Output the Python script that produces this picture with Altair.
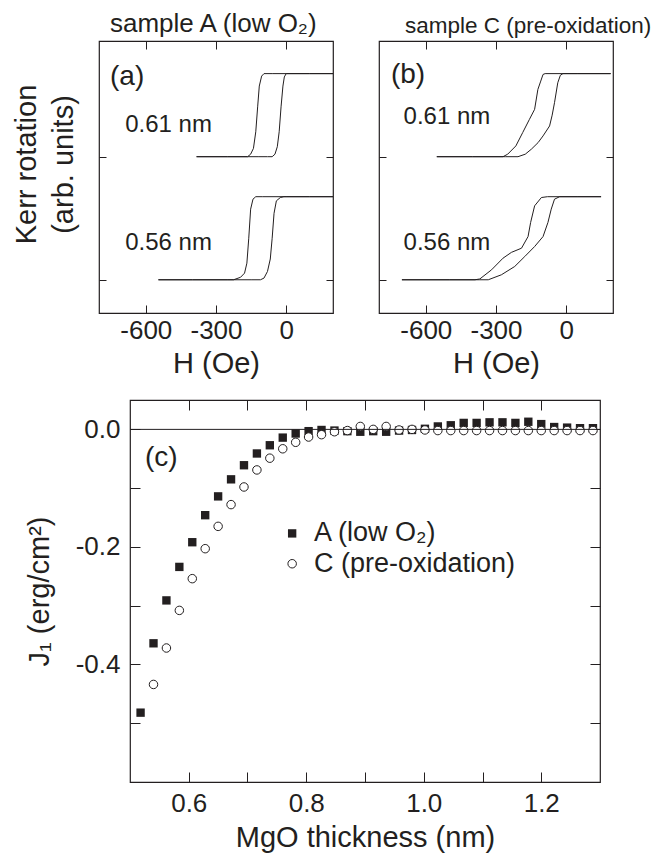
import altair as alt
import pandas as pd

FONT = "Liberation Sans"
INK = "#231f20"

# ---------------- data ----------------
# Kerr loops: applied field H (Oe) and Kerr signal normalised 0 (low state) .. 1 (high state)
# panel (a) sample A (low O2)
a61_H = [-383, -250, -165, -120, -80, -60, -48, -38, -30, -22, -14, -8, 0, 100, 200,
         100, 0, -60, -95, -105, -115, -122, -130, -140, -152, -165, -250, -383]
a61_M = [0, 0, 0, 0, 0, 0, 0.03, 0.12, 0.3, 0.6, 0.85, 0.96, 1, 1, 1,
         1, 1, 1, 1, 0.97, 0.85, 0.6, 0.3, 0.1, 0.03, 0, 0, 0]
a56_H = [-546, -400, -250, -150, -110, -95, -80, -68, -60, -52, -42, -25, -10, 100, 200,
         100, 0, -100, -130, -142, -152, -160, -168, -178, -195, -225, -400, -546]
a56_M = [0, 0, 0, 0, 0, 0.02, 0.1, 0.25, 0.5, 0.8, 0.95, 0.99, 1, 1, 1,
         1, 1, 1, 1, 0.97, 0.85, 0.5, 0.2, 0.08, 0.03, 0, 0, 0]
# panel (b) sample C (pre-oxidation)
b61_H = [-553, -400, -260, -206, -175, -149, -120, -99, -71, -60, -50, -36, -25, -14, 50, 190,
         50, -90, -99, -110, -121, -135, -157, -186, -215, -250, -270, -400, -553]
b61_M = [0, 0, 0, 0, 0.03, 0.09, 0.17, 0.25, 0.37, 0.5, 0.65, 0.89, 0.98, 1, 1, 1,
         1, 1, 0.99, 0.9, 0.81, 0.57, 0.45, 0.29, 0.13, 0.03, 0, 0, 0]
b56_H = [-702, -500, -370, -333, -277, -220, -177, -135, -99, -78, -64, -50, -28, 50, 149,
         50, -80, -106, -135, -152, -163, -191, -234, -270, -319, -369, -390, -500, -702]
b56_M = [0, 0, 0, 0, 0.06, 0.16, 0.28, 0.4, 0.52, 0.69, 0.85, 0.97, 1, 1, 1,
         1, 1, 0.99, 0.89, 0.69, 0.52, 0.38, 0.33, 0.26, 0.12, 0.01, 0, 0, 0]
loop_names = ["0.61 nm", "0.56 nm"]

# panel (c): interlayer coupling J1 vs MgO thickness
thickness = [0.518, 0.540, 0.562, 0.584, 0.606, 0.628, 0.650, 0.672, 0.694, 0.716,
             0.738, 0.760, 0.782, 0.804, 0.826, 0.848, 0.870, 0.892, 0.914, 0.936,
             0.958, 0.980, 1.002, 1.024, 1.046, 1.068, 1.090, 1.112, 1.134, 1.156,
             1.178, 1.200, 1.222, 1.244, 1.266, 1.288]
J1_A = [-0.482, -0.364, -0.291, -0.234, -0.192, -0.146, -0.114, -0.085, -0.061, -0.041,
        -0.027, -0.014, -0.007, -0.003, -0.001, -0.002, -0.003, -0.004, -0.003, -0.004,
        -0.002, -0.001, 0.001, 0.005, 0.007, 0.011, 0.011, 0.012, 0.012, 0.011,
        0.013, 0.009, 0.004, 0.003, 0.002, 0.002]
J1_C = [None, -0.434, -0.372, -0.308, -0.254, -0.203, -0.165, -0.128, -0.098, -0.069,
        -0.049, -0.033, -0.022, -0.013, -0.009, -0.004, -0.002, 0.005, 0.000, 0.005,
        -0.001, 0.000, -0.001, -0.002, -0.002, -0.002, -0.002, -0.002, -0.002, -0.002,
        -0.002, -0.002, -0.002, -0.002, -0.002, -0.002]
series_names = ["A (low O\u2082)", "C (pre-oxidation)"]

# ---------------- layout constants ----------------
KERR_H = 0.675          # loop height in units of the baseline spacing
LBL, TTL = 26, 29

H_scale = alt.Scale(domain=[-800, 200], nice=False, zero=False)
K_scale = alt.Scale(domain=[-0.27, 1.94], nice=False, zero=False)
H_label = "datum.value < 0 ? '-' + format(-datum.value, 'd') : format(datum.value, 'd')"


def kerr_panel(loops, title, title_size, title_dx, tag, with_ytitle):
    frames = []
    for k, (name, H, M) in enumerate(loops):
        off = 1 if k == 0 else 0
        frames.append(pd.DataFrame({"H": H, "K": [off + KERR_H * m for m in M],
                                    "i": list(range(len(H))), "loop": name}))
    df = pd.concat(frames, ignore_index=True)
    if with_ytitle:
        yaxis = alt.Axis(orient="left", values=[0, 1], offset=-7, tickSize=7, domain=False,
                         grid=False, labels=False, title=["Kerr rotation", "(arb. units)"],
                         titleLineHeight=37, titlePadding=20, titleY=123)
    else:
        yaxis = alt.Axis(orient="left", values=[0, 1], offset=-7, tickSize=7, domain=False,
                         grid=False, labels=False, title=None)
    lines = alt.Chart(df).mark_line(color=INK, strokeWidth=1, clip=True).encode(
        x=alt.X("H:Q", scale=H_scale,
                axis=alt.Axis(orient="bottom", values=[-600, -300, 0], offset=-8, tickSize=8,
                              domain=False, grid=False, labelExpr=H_label, labelPadding=4.5,
                              title="H (Oe)", titlePadding=5.5)),
        y=alt.Y("K:Q", scale=K_scale, axis=yaxis),
        detail="loop:N", order="i:Q")
    ann = pd.DataFrame({"H": tag[0], "K": tag[1], "t": tag[2], "fs": tag[3]})
    text = alt.Chart(ann).mark_text(align="left", baseline="middle", font=FONT, color=INK).encode(
        x=alt.X("H:Q", scale=H_scale,
                axis=alt.Axis(orient="top", values=[-600, -300, 0], offset=-8, tickSize=8,
                              domain=False, grid=False, labels=False, title=None)),
        y=alt.Y("K:Q", scale=K_scale,
                axis=alt.Axis(orient="right", values=[0, 1], offset=-7, tickSize=7,
                              domain=False, grid=False, labels=False, title=None)),
        text="t:N", size=alt.Size("fs:Q", scale=None, legend=None))
    return alt.layer(lines, text).resolve_axis(x="independent", y="independent").properties(
        width=234, height=272,
        title=alt.TitleParams(title, anchor="start", frame="group", dx=title_dx,
                              fontSize=title_size, font=FONT, color=INK, fontWeight="normal",
                              offset=3.5))


panel_a = kerr_panel([(loop_names[0], a61_H, a61_M), (loop_names[1], a56_H, a56_M)],
                     "sample A (low O\u2082)", 26, 11,
                     ([-753, -688, -688], [1.65, 1.26, 0.30], ["(a)", loop_names[0], loop_names[1]], [28, 24, 24]),
                     True)
panel_b = kerr_panel([(loop_names[0], b61_H, b61_M), (loop_names[1], b56_H, b56_M)],
                     "sample C (pre-oxidation)", 22.5, 26,
                     ([-749, -695, -695], [1.66, 1.32, 0.30], ["(b)", loop_names[0], loop_names[1]], [28, 24, 24]),
                     False)

# ---------------- panel (c) ----------------
T_scale = alt.Scale(domain=[0.5, 1.3], nice=False, zero=False)
J_scale = alt.Scale(domain=[-0.6, 0.05], nice=False, zero=False)
t_ticks = [0.6, 0.7, 0.8, 0.9, 1.0, 1.1, 1.2]
j_ticks = [0.0, -0.1, -0.2, -0.3, -0.4, -0.5]
t_label = "round(datum.value * 10) % 2 == 0 ? format(datum.value, '.1f') : ''"
j_label = ("round(datum.value * 10) % 2 == 0 ? (datum.value < -0.001 ? '-' + format(-datum.value, '.1f') : '0.0') : ''")

dfA = pd.DataFrame({"t": thickness, "J": J1_A})
dfC = pd.DataFrame({"t": thickness, "J": J1_C}).dropna()

squares = alt.Chart(dfA).mark_point(shape="square", filled=True, color=INK, size=70, opacity=1).encode(
    x=alt.X("t:Q", scale=T_scale,
            axis=alt.Axis(orient="bottom", values=t_ticks, offset=-10, tickSize=10, domain=False,
                          grid=False, labelExpr=t_label, labelPadding=8,
                          title="MgO thickness (nm)", titlePadding=7)),
    y=alt.Y("J:Q", scale=J_scale,
            axis=alt.Axis(orient="left", values=j_ticks, offset=-10, tickSize=10, domain=False,
                          grid=False, labels=False, title=None)))
circles = alt.Chart(dfC).mark_point(shape="circle", filled=True, fill="white", stroke=INK,
                                    strokeWidth=1, size=72, opacity=1).encode(
    x=alt.X("t:Q", scale=T_scale,
            axis=alt.Axis(orient="top", values=t_ticks, offset=-10, tickSize=10, domain=False,
                          grid=False, labels=False, title=None)),
    y=alt.Y("J:Q", scale=J_scale,
            axis=alt.Axis(orient="right", values=j_ticks, offset=-10, tickSize=10, domain=False,
                          grid=False, labels=False, title=None)))
zero = alt.Chart(pd.DataFrame({"J": [0.0]})).mark_rule(color=INK, strokeWidth=1).encode(
    y=alt.Y("J:Q", scale=J_scale, axis=None))

leg = pd.DataFrame({"t": [0.776, 0.776], "J": [-0.177, -0.2286], "lab": series_names,
                    "tl": [0.813, 0.813]})
leg_sq = alt.Chart(leg.iloc[[0]]).mark_point(shape="square", filled=True, color=INK, size=70, opacity=1).encode(
    x=alt.X("t:Q", scale=T_scale, axis=None), y=alt.Y("J:Q", scale=J_scale, axis=None))
leg_ci = alt.Chart(leg.iloc[[1]]).mark_point(shape="circle", filled=True, fill="white", stroke=INK,
                                             strokeWidth=1, size=72, opacity=1).encode(
    x=alt.X("t:Q", scale=T_scale, axis=None), y=alt.Y("J:Q", scale=J_scale, axis=None))
leg_tx = alt.Chart(leg).mark_text(align="left", baseline="middle", font=FONT, fontSize=27, color=INK).encode(
    x=alt.X("tl:Q", scale=T_scale, axis=None), y=alt.Y("J:Q", scale=J_scale, axis=None), text="lab:N")
tag_c = alt.Chart(pd.DataFrame({"t": [0.5256], "J": [-0.0485], "s": ["(c)"]})).mark_text(
    align="left", baseline="middle", font=FONT, fontSize=28, color=INK).encode(
    x=alt.X("t:Q", scale=T_scale, axis=None), y=alt.Y("J:Q", scale=J_scale, axis=None), text="s:N")

panel_c = alt.layer(squares, circles, zero, leg_sq, leg_ci, leg_tx, tag_c).resolve_axis(
    x="independent", y="independent").properties(width=470, height=382)

# labelled J1 axis of panel (c), carried by a narrow frameless view to its left
c_yaxis = alt.Chart(dfA).mark_point(opacity=0).encode(
    y=alt.Y("J:Q", scale=J_scale,
            axis=alt.Axis(orient="left", values=j_ticks, offset=-21, ticks=False, tickSize=0,
                          domain=False, grid=False, labelExpr=j_label, labelPadding=0,
                          title="J\u2081 (erg/cm\u00b2)", titlePadding=21))
).properties(width=28, height=382, view=alt.ViewBackground(stroke="transparent"))

top = alt.hconcat(panel_a, panel_b, spacing=42)
bottom = alt.hconcat(c_yaxis, panel_c, spacing=0)

chart = alt.vconcat(top, bottom, spacing=19).properties(
    padding={"left": 11, "top": 10, "right": 2, "bottom": 0}
).configure_view(stroke=INK, strokeWidth=1.2).configure_axis(
    labelFont=FONT, titleFont=FONT, labelColor=INK, titleColor=INK, tickColor=INK,
    labelFontSize=LBL, titleFontSize=TTL, titleFontWeight="normal", tickWidth=1
).configure_title(font=FONT, color=INK, fontWeight="normal")

chart.save("out.html", embed_options={"renderer": "svg", "actions": False})
